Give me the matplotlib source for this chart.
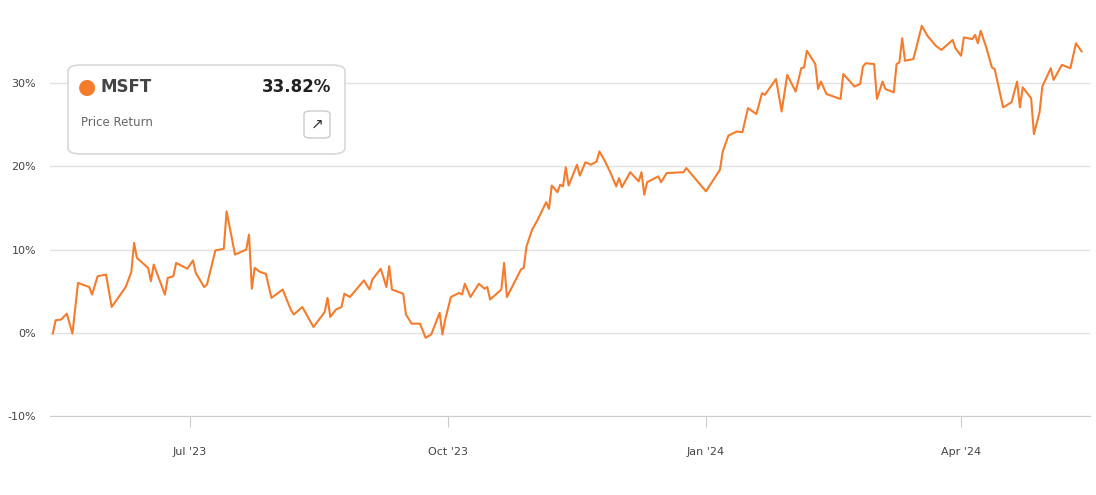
import matplotlib
matplotlib.use("Agg")
import matplotlib.pyplot as plt
from matplotlib.patches import FancyBboxPatch
import pandas as pd

# MSFT price return (%)
dates = [
    "2023-05-13", "2023-05-14", "2023-05-16", "2023-05-18", "2023-05-20", "2023-05-22",
    "2023-05-26", "2023-05-27", "2023-05-29", "2023-06-01", "2023-06-03", "2023-06-08",
    "2023-06-10", "2023-06-11", "2023-06-12", "2023-06-16", "2023-06-17", "2023-06-18",
    "2023-06-22", "2023-06-23", "2023-06-25", "2023-06-26", "2023-06-30", "2023-07-02",
    "2023-07-03", "2023-07-06", "2023-07-07", "2023-07-10", "2023-07-13", "2023-07-14",
    "2023-07-17", "2023-07-21", "2023-07-22", "2023-07-23", "2023-07-24", "2023-07-26",
    "2023-07-28", "2023-07-30", "2023-08-03", "2023-08-06", "2023-08-07", "2023-08-10",
    "2023-08-12", "2023-08-14", "2023-08-18", "2023-08-19", "2023-08-20", "2023-08-22",
    "2023-08-24", "2023-08-25", "2023-08-27", "2023-09-01", "2023-09-03", "2023-09-04",
    "2023-09-07", "2023-09-09", "2023-09-10", "2023-09-11", "2023-09-15", "2023-09-16",
    "2023-09-18", "2023-09-21", "2023-09-23", "2023-09-25", "2023-09-28", "2023-09-29",
    "2023-09-30", "2023-10-02", "2023-10-05", "2023-10-06", "2023-10-07", "2023-10-09",
    "2023-10-12", "2023-10-14", "2023-10-15", "2023-10-16", "2023-10-20", "2023-10-21",
    "2023-10-22", "2023-10-27", "2023-10-28", "2023-10-29", "2023-10-31", "2023-11-02",
    "2023-11-05", "2023-11-06", "2023-11-07", "2023-11-09", "2023-11-10", "2023-11-11",
    "2023-11-12", "2023-11-13", "2023-11-16", "2023-11-17", "2023-11-19", "2023-11-21",
    "2023-11-23", "2023-11-24", "2023-11-26", "2023-11-28", "2023-11-30", "2023-12-01",
    "2023-12-02", "2023-12-05", "2023-12-08", "2023-12-09", "2023-12-10", "2023-12-11",
    "2023-12-15", "2023-12-16", "2023-12-18", "2023-12-24", "2023-12-25", "2023-12-29",
    "2024-01-01", "2024-01-06", "2024-01-07", "2024-01-09", "2024-01-12", "2024-01-14",
    "2024-01-16", "2024-01-19", "2024-01-21", "2024-01-22", "2024-01-26", "2024-01-28",
    "2024-01-30", "2024-02-02", "2024-02-04", "2024-02-05", "2024-02-06", "2024-02-09",
    "2024-02-10", "2024-02-11", "2024-02-13", "2024-02-18", "2024-02-19", "2024-02-23",
    "2024-02-25", "2024-02-26", "2024-02-27", "2024-03-01", "2024-03-02", "2024-03-04",
    "2024-03-05", "2024-03-08", "2024-03-09", "2024-03-10", "2024-03-11", "2024-03-12",
    "2024-03-15", "2024-03-18", "2024-03-20", "2024-03-23", "2024-03-25", "2024-03-29",
    "2024-03-30", "2024-04-01", "2024-04-02", "2024-04-05", "2024-04-06", "2024-04-07",
    "2024-04-08", "2024-04-10", "2024-04-12", "2024-04-13", "2024-04-16", "2024-04-19",
    "2024-04-21", "2024-04-22", "2024-04-23", "2024-04-26", "2024-04-27", "2024-04-29",
    "2024-04-30", "2024-05-03", "2024-05-04", "2024-05-07", "2024-05-10", "2024-05-12",
    "2024-05-14",
]
returns = [
    -0.1, 1.5, 1.6, 2.3, -0.1, 6.0,
    5.5, 4.6, 6.8, 7.0, 3.1, 5.5,
    7.3, 10.8, 9.0, 7.8, 6.2, 8.2,
    4.6, 6.6, 6.8, 8.4, 7.7, 8.7,
    7.2, 5.5, 5.8, 9.9, 10.1, 14.6,
    9.4, 10.0, 11.8, 5.3, 7.8, 7.3,
    7.1, 4.2, 5.2, 2.7, 2.2, 3.1,
    1.9, 0.7, 2.5, 4.2, 1.9, 2.8,
    3.1, 4.7, 4.3, 6.3, 5.2, 6.4,
    7.7, 5.5, 8.0, 5.2, 4.7, 2.2,
    1.1, 1.1, -0.6, -0.2, 2.4, -0.2,
    1.6, 4.3, 4.8, 4.6, 5.9, 4.3,
    5.9, 5.3, 5.5, 4.0, 5.2, 8.4,
    4.3, 7.6, 7.8, 10.4, 12.4, 13.6,
    15.7, 14.9, 17.7, 16.9, 17.8, 17.6,
    19.9, 17.7, 20.2, 18.9, 20.5, 20.2,
    20.6, 21.8, 20.6, 19.2, 17.6, 18.6,
    17.5, 19.3, 18.2, 19.3, 16.6, 18.1,
    18.8, 18.1, 19.2, 19.3, 19.8, 18.2,
    17.0, 19.6, 21.8, 23.7, 24.2, 24.1,
    27.0, 26.3, 28.8, 28.6, 30.5, 26.6,
    31.0, 29.0, 31.8, 31.9, 33.9, 32.3,
    29.3, 30.2, 28.7, 28.1, 31.1, 29.6,
    29.9, 32.0, 32.4, 32.3, 28.1, 30.2,
    29.3, 28.9, 32.3, 32.5, 35.4, 32.7,
    32.9, 36.9, 35.7, 34.5, 34.0, 35.2,
    34.2, 33.3, 35.5, 35.3, 35.8, 34.8,
    36.3, 34.3, 31.9, 31.7, 27.1, 27.7,
    30.2, 27.1, 29.5, 28.2, 23.9, 26.5,
    29.6, 31.8, 30.4, 32.2, 31.8, 34.8,
    33.82,
]
y_ticks = [-10, 0, 10, 20, 30]
x_ticks = ["2023-07-01", "2023-10-01", "2024-01-01", "2024-04-01"]
x_tick_labels = ["Jul '23", "Oct '23", "Jan '24", "Apr '24"]

ticker = "MSFT"
last_value = "33.82%"
subtitle = "Price Return"
line_color = "#f47c2c"

fig = plt.figure(figsize=(10.96, 4.95), dpi=100)
ax = fig.add_axes([50 / 1096, 79 / 495, 1040 / 1096, 416 / 495])

ax.plot(pd.to_datetime(dates), returns, color=line_color, linewidth=1.5)

ax.set_ylim(-10, 40)
ax.set_xlim(pd.Timestamp("2023-05-12"), pd.Timestamp("2024-05-17"))
ax.set_yticks(y_ticks)
ax.set_yticklabels([f"{v}%" for v in y_ticks])
ax.set_xticks(pd.to_datetime(x_ticks))
ax.set_xticklabels(x_tick_labels)

ax.grid(axis="y", color="#e2e2e2", linewidth=1)
for side in ["top", "right", "left"]:
    ax.spines[side].set_visible(False)
ax.spines["bottom"].set_color("#cccccc")
ax.tick_params(axis="y", length=0, labelsize=8, labelcolor="#444444", pad=10)
ax.tick_params(axis="x", length=8, color="#cccccc", labelsize=8,
               labelcolor="#444444", pad=14)

# legend card
card = FancyBboxPatch((68 / 1096, 1 - 154 / 495), 277 / 1096, 89 / 495,
                      boxstyle="round,pad=0,rounding_size=0.012",
                      transform=fig.transFigure, facecolor="white",
                      edgecolor="#d8d8d8", linewidth=1.2, zorder=5)
fig.patches.append(card)
fig.text(87 / 1096, 1 - 87 / 495, "\u25cf", color=line_color, fontsize=15,
         ha="center", va="center", zorder=6)
fig.text(100 / 1096, 1 - 87 / 495, ticker, fontsize=12, fontweight="bold",
         color="#444444", va="center", zorder=6)
fig.text(331 / 1096, 1 - 87 / 495, last_value, fontsize=12, fontweight="bold",
         color="#222222", va="center", ha="right", zorder=6)
fig.text(81 / 1096, 1 - 122 / 495, subtitle, fontsize=8.5, color="#666666",
         va="center", zorder=6)
btn = FancyBboxPatch((304 / 1096, 1 - 138 / 495), 26 / 1096, 27 / 495,
                     boxstyle="round,pad=0,rounding_size=0.006",
                     transform=fig.transFigure, facecolor="white",
                     edgecolor="#cccccc", linewidth=1, zorder=6)
fig.patches.append(btn)
fig.text(317 / 1096, 1 - 124 / 495, "\u2197", fontsize=11, color="#333333",
         ha="center", va="center", zorder=7)

fig.savefig("out.png", dpi=100)
